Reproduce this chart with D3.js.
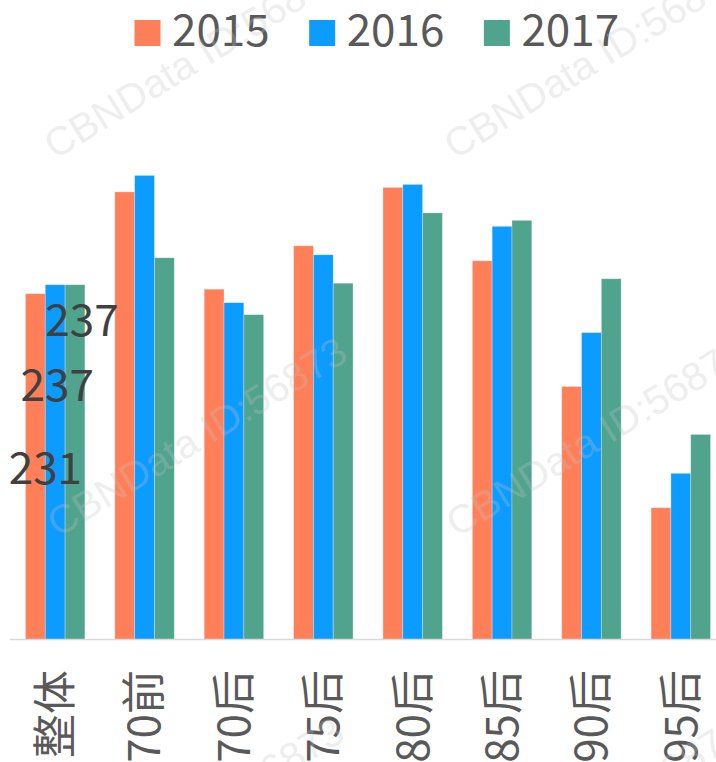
<!DOCTYPE html>
<html><head><meta charset="utf-8">
<script src="https://cdn.jsdelivr.net/npm/d3@7"></script>
<style>html,body{margin:0;padding:0;background:#fff;overflow:hidden}</style>
</head><body>
<svg id="c" width="716" height="762"></svg>
<script>
const categories = ["整体","70前","70后","75后","80后","85后","90后","95后"];
const seriesNames = ["2015","2016","2017"];
const v2015 = [231, 299, 234, 263, 302, 253, 169, 88];
const v2016 = [237, 310, 225, 257, 304, 276, 205, 111];
const v2017 = [237, 255, 217, 238, 285, 280, 241, 137];
const colors = ["#FF7F59", "#0C9BFF", "#50A48E"];
// data labels shown in the picture (only for 整体)
const dataLabels = [
  {series: 2, value: 237},
  {series: 1, value: 237},
  {series: 0, value: 231}
];
const watermark = "CBNData ID:56873";

const series = [v2015, v2016, v2017];
const svg = d3.select("#c");
const W = 716, H = 762;
const base = 639.5;

const x0 = d3.scaleBand().domain(categories).range([10.5, 725.5]).paddingInner(0.335).paddingOuter(0.1675);
const x1 = d3.scaleBand().domain(seriesNames).range([0, x0.bandwidth()]);
const y = d3.scaleLinear().domain([0, 400]).range([base, base - 598.8]);

// bars
const g = svg.append("g");
categories.forEach((c, i) => {
  series.forEach((s, j) => {
    g.append("rect")
      .attr("x", x0(c) + x1(seriesNames[j]))
      .attr("y", y(s[i]))
      .attr("width", x1.bandwidth())
      .attr("height", y(0) - y(s[i]))
      .attr("fill", colors[j])
      .attr("stroke", "rgba(255,255,255,0.35)").attr("stroke-width", 0.8);
  });
});

// axis line
svg.append("line").attr("x1", 10).attr("x2", W).attr("y1", base).attr("y2", base)
  .attr("stroke", "#d9d9d9").attr("stroke-width", 1.5);

// category labels (rotated)
const xAxis = svg.append("g");
categories.forEach(c => {
  const cx = x0(c) + x0.bandwidth() / 2;
  xAxis.append("text")
    .attr("transform", `translate(${cx},670) rotate(-90)`)
    .attr("text-anchor", "end").attr("dy", "0.36em")
    .attr("font-family", "Noto Sans CJK SC, sans-serif").attr("font-size", 44)
    .attr("fill", "#595959").text(c);
});

// data labels for 整体 (positions as displayed in the picture)
const lblOffsets = [[7, 51], [2, 116], [10, 190]];
dataLabels.forEach((d, k) => {
  const cx = x0(categories[0]) + x1(seriesNames[d.series]) + x1.bandwidth() / 2;
  svg.append("text")
    .attr("x", cx + lblOffsets[k][0])
    .attr("y", y(d.value) + lblOffsets[k][1])
    .attr("text-anchor", "middle")
    .attr("font-family", "Noto Sans CJK SC, sans-serif").attr("font-size", 44)
    .attr("fill", "#404040").text(d.value);
});

// legend
const lg = svg.append("g");
let lx = 134.5;
seriesNames.forEach((n, j) => {
  lg.append("rect").attr("x", lx).attr("y", 20).attr("width", 26).attr("height", 26).attr("fill", colors[j]);
  const t = lg.append("text").attr("x", lx + 37.5).attr("y", 46)
    .attr("font-family", "Noto Sans CJK SC, sans-serif").attr("font-size", 44)
    .attr("fill", "#595959").text(n);
  lx = lx + 37.5 + t.node().getComputedTextLength() + 39.5;
});

// watermarks (on top, semi-transparent)
const wm = svg.append("g").attr("pointer-events", "none");
const wmPos = [[55,160],[455,160],[58,538],[457,538],[55,918],[455,918]];
wmPos.forEach(p => {
  wm.append("text").attr("transform", `translate(${p[0]},${p[1]}) rotate(-31.5)`)
    .attr("font-family","Liberation Sans, Arial, sans-serif").attr("font-size",40)
    .attr("fill","#c3c3c3").attr("fill-opacity",0.3).text(watermark);
});
</script>
</body></html>
